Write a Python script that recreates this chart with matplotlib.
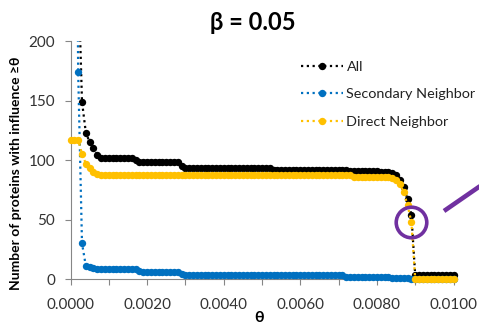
import matplotlib
matplotlib.use('Agg')
import matplotlib.pyplot as plt
import numpy as np
from matplotlib.lines import Line2D
from matplotlib.patches import Rectangle

plt.rcParams['font.family'] = ['Lato', 'DejaVu Sans']

# theta sampled every 0.0001 from 0.0000 to 0.0100
theta = np.arange(101) * 0.0001

all_counts = [400, 330, 260, 149, 123, 115, 110, 104, 102, 102,
              102, 102, 102, 102, 102, 102, 102, 100, 98, 98,
              98, 98, 98, 98, 98, 98, 98, 98, 98, 95,
              93, 93, 93, 93, 93, 93, 93, 93, 93, 93,
              93, 93, 93, 93, 93, 93, 93, 93, 93, 93,
              93, 93, 93, 92, 92, 92, 92, 92, 92, 92,
              92, 92, 92, 92, 92, 92, 92, 92, 92, 92,
              92, 92, 92, 91, 91, 91, 91, 91, 91, 91,
              91, 90, 90, 90, 89, 87, 83, 77, 67, 54,
              3, 3, 3, 3, 3, 3, 3, 3, 3, 3, 3]

secondary = [900, 600, 174, 30, 11, 10, 9, 8, 8, 8,
             8, 8, 8, 8, 8, 8, 8, 8, 7, 6,
             6, 6, 6, 6, 6, 6, 6, 6, 6, 4,
             3, 3, 3, 3, 3, 3, 3, 3, 3, 3,
             3, 3, 3, 3, 3, 3, 3, 3, 3, 3,
             3, 3, 3, 3, 3, 3, 3, 3, 3, 3,
             3, 3, 3, 3, 3, 3, 3, 3, 3, 3,
             3, 3, 2, 2, 2, 2, 2, 2, 2, 2,
             2, 2, 2, 2, 1, 1, 1, 1, 1, 0,
             0, 0, 0, 0, 0, 0, 0, 0, 0, 0, 0]

direct = [117, 117, 117, 105, 97, 93, 90, 88, 87, 87,
          87, 87, 87, 87, 87, 87, 87, 87, 87, 87,
          87, 87, 87, 87, 87, 87, 87, 87, 87, 87,
          87, 87, 87, 87, 87, 87, 87, 87, 87, 87,
          87, 87, 87, 87, 87, 87, 87, 87, 87, 87,
          87, 87, 87, 87, 87, 87, 87, 87, 87, 87,
          87, 87, 87, 87, 87, 87, 87, 87, 87, 87,
          87, 87, 87, 87, 86, 86, 86, 86, 86, 86,
          86, 86, 86, 86, 85, 83, 80, 73, 62, 48,
          0, 0, 0, 0, 0, 0, 0, 0, 0, 0, 0]

x_ticks = np.arange(11) * 0.001
x_labels = ['0.0000', '', '0.0020', '', '0.0040', '', '0.0060', '', '0.0080', '', '0.0100']
y_ticks = [0, 50, 100, 150, 200]

black = '#000000'
blue = '#0070C0'
gold = '#FFC000'
purple = '#7030A0'
axis_grey = '#868686'

fig = plt.figure(figsize=(4.79, 3.3), dpi=100)
ax = fig.add_axes([0.1472, 0.1545, 0.7996, 0.7212])

clip = Rectangle((-0.03, -0.05), 1.06, 1.05, transform=ax.transAxes,
                 facecolor='none', edgecolor='none')
ax.add_patch(clip)

series = [('All', all_counts, black), ('Secondary Neighbor', secondary, blue),
          ('Direct Neighbor', direct, gold)]
handles = []
for i, (name, vals, col) in enumerate(series):
    ln, = ax.plot(theta, vals, color=col, linestyle=(0, (1, 1.6)), linewidth=1.6,
                  marker='o', markersize=5.3, markeredgewidth=0, label=name, zorder=3 + i)
    ln.set_clip_path(clip)
    handles.append(ln)

# highlight circle around the drop
ax.plot(theta[89], direct[89], marker='o', markersize=22, markerfacecolor='none',
        markeredgecolor=purple, markeredgewidth=2.6, clip_on=False, zorder=10)
fig.add_artist(Line2D([444 / 479, 486 / 479], [1 - 211 / 330, 1 - 182 / 330],
                      color=purple, linewidth=3.3, solid_capstyle='butt'))

ax.set_xlim(0, 0.0100)
ax.set_ylim(0, 200)
ax.set_xticks(x_ticks)
ax.set_xticklabels(x_labels)
ax.set_yticks(y_ticks)

for s in ['top', 'right']:
    ax.spines[s].set_visible(False)
for s in ['left', 'bottom']:
    ax.spines[s].set_color(axis_grey)
    ax.spines[s].set_linewidth(0.8)
ax.tick_params(axis='both', colors=axis_grey, length=4, width=0.8, labelsize=11,
               labelcolor='#333333')
ax.tick_params(axis='x', pad=10)
ax.tick_params(axis='y', pad=7)

fig.text(253 / 479, 1 - 22 / 330, 'β = 0.05', ha='center', va='center',
         fontsize=17, fontweight='bold')
fig.text(16 / 479, 1 - 173 / 330, 'Number of proteins with influence ≥θ', rotation=90,
         ha='center', va='center', fontsize=10, fontweight='bold')
fig.text(259 / 479, 1 - 318 / 330, 'θ', ha='center', va='center',
         fontsize=11.5, fontweight='bold')

leg = fig.legend(handles=handles, loc='upper left', bbox_to_anchor=(301 / 479, 1 - 61 / 330),
                 frameon=False, fontsize=10.4, handlelength=2.9, handletextpad=0.25,
                 labelspacing=1.05, borderpad=0, borderaxespad=0, numpoints=1)
for t in leg.get_texts():
    t.set_color('#222222')

fig.savefig('out.png', dpi=100)
